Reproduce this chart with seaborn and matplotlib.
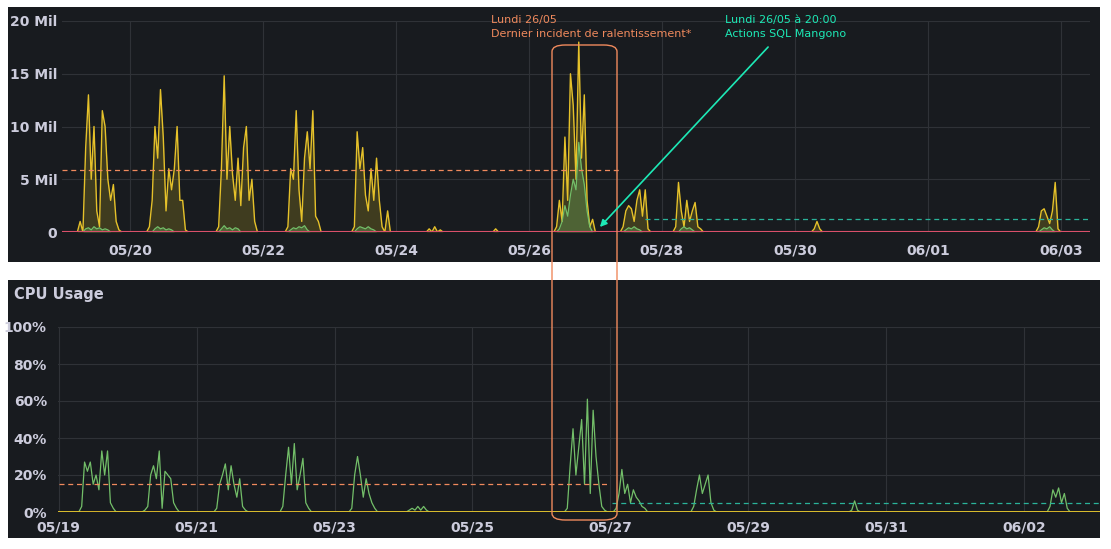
import numpy as np
import pandas as pd
import matplotlib
matplotlib.use("Agg")
import matplotlib.pyplot as plt
from matplotlib.patches import FancyBboxPatch, Rectangle, FancyArrowPatch
import seaborn as sns

# ---------------- data (hourly blocks: (day offset from 05/19, start hour, values)) -------------
traffic_yellow = [  # millions
    (0, 6, [1, 0, 8, 13, 5, 10, 2, 0.5, 11.5, 10, 5, 3, 4.5, 1, 0.2, 0]),
    (1, 7, [0.5, 3, 10, 7, 13.5, 9, 2, 6, 4, 6, 10, 3, 3, 0.2]),
    (2, 8, [0.5, 6, 14.8, 5, 10, 5.5, 3, 7, 2.5, 8, 10, 3, 5, 1, 0]),
    (3, 9, [0.5, 6, 5, 11.5, 4, 1, 7, 9.5, 6, 11.5, 1.5, 1, 0]),
    (4, 9, [0.5, 9.5, 6, 8, 3.5, 2, 6, 3, 7, 3, 0.5, 0, 2, 0]),
    (5, 12, [0.3, 0, 0.5, 0, 0.2]),
    (6, 12, [0.3]),
    (7, 10, [0.5, 3, 1, 9, 3, 15, 12, 5, 18, 7, 13, 3, 0.5, 1.2, 0]),
    (8, 10, [0.5, 2, 2.5, 2.2, 1, 3, 4, 1.5, 4, 0.3]),
    (9, 5, [0.5, 4.7, 2, 0.5, 3, 1, 2, 2.8, 0.5, 0.3]),
    (11, 7, [0.3, 1, 0.3]),
    (14, 16, [0.5, 2, 2.2, 1.5, 0.8, 2, 4.7, 0.3]),
]
traffic_green = [
    (0, 8, [0.3, 0.4, 0.2, 0.5, 0.3, 0.4, 0.2, 0.3, 0.2]),
    (1, 9, [0.3, 0.5, 0.3, 0.4, 0.2, 0.3, 0.2]),
    (2, 9, [0.3, 0.6, 0.3, 0.4, 0.2, 0.4, 0.3]),
    (3, 10, [0.2, 0.4, 0.3, 0.5, 0.4, 0.6, 0.2]),
    (4, 10, [0.3, 0.5, 0.4, 0.3, 0.5, 0.3, 0.2]),
    (7, 11, [0.3, 1, 2.5, 1.5, 3.5, 5, 4, 8.5, 6, 4.5, 2, 0.5]),
    (8, 11, [0.2, 0.4, 0.3, 0.5, 0.3, 0.2]),
    (9, 7, [0.3, 0.5, 0.3, 0.4, 0.2]),
    (14, 17, [0.2, 0.4, 0.3, 0.5, 0.2]),
]
cpu_green = [  # percent
    (0, 8, [3, 27, 22, 27, 15, 20, 12, 33, 20, 33, 5, 2]),
    (1, 6, [1, 3, 20, 25, 18, 33, 2, 22, 20, 18, 5, 2]),
    (2, 7, [2, 15, 20, 26, 12, 25, 15, 8, 18, 3, 1]),
    (3, 6, [3, 20, 35, 15, 37, 12, 20, 29, 5, 2]),
    (4, 6, [2, 20, 30, 20, 8, 18, 10, 5, 2]),
    (5, 2, [1, 2, 1, 3, 1, 3, 1]),
    (7, 9, [2, 25, 45, 20, 35, 50, 15, 61, 10, 55, 30, 15, 3, 1]),
    (8, 2, [2, 10, 23, 10, 15, 5, 12, 8, 6, 3, 2]),
    (9, 5, [3, 12, 20, 10, 15, 20, 5, 1]),
    (11, 12, [1, 6, 1]),
    (14, 9, [3, 12, 8, 13, 5, 10, 2]),
]
top_thresholds = {"incident": 5.9, "after": 1.2}
cpu_thresholds = {"incident": 15, "after": 5}
top_ticks = ["05/20", "05/22", "05/24", "05/26", "05/28", "05/30", "06/01", "06/03"]
top_tick_days = [1, 3, 5, 7, 9, 11, 13, 15]
cpu_ticks = ["05/19", "05/21", "05/23", "05/25", "05/27", "05/29", "05/31", "06/02"]
cpu_tick_days = [0, 2, 4, 6, 8, 10, 12, 14]
top_yticks = ["0", "5 Mil", "10 Mil", "15 Mil", "20 Mil"]
cpu_yticks = ["0%", "20%", "40%", "60%", "80%", "100%"]


def build(blocks, n=16 * 24):
    v = np.zeros(n)
    for d, h, vals in blocks:
        s = d * 24 + h
        v[s:s + len(vals)] = vals
    return pd.DataFrame({"day": np.arange(n) / 24.0, "value": v})


BG = "#181b1f"
GRID = "#2f3237"
TXT = "#ccccdc"
YEL = "#e5c12a"
GRN = "#73bf69"
ORG = "#f08a5d"
CYN = "#1de9b6"
CYN_D = "#2ab39a"
W, H = 1111, 549

fig = plt.figure(figsize=(W / 100, H / 100), dpi=100)
fig.patch.set_facecolor("white")


def fr(x0, y0, x1, y1):
    return [x0 / W, 1 - y1 / H, (x1 - x0) / W, (y1 - y0) / H]


def pt(x, y):
    return (x / W, 1 - y / H)


for (x0, y0, x1, y1) in [(8, 7, 1100, 262), (8, 280, 1100, 538)]:
    fig.patches.append(Rectangle(pt(x0, y1), (x1 - x0) / W, (y1 - y0) / H,
                                 transform=fig.transFigure, facecolor=BG, edgecolor="none", zorder=-10))


def style(ax):
    ax.set_facecolor(BG)
    for s in ax.spines.values():
        s.set_visible(False)
    ax.grid(True, color=GRID, lw=0.8)
    ax.set_axisbelow(True)
    ax.tick_params(colors=TXT, length=0, labelsize=10)
    ax.set_xlabel("")
    ax.set_ylabel("")


# ---------- top ----------
ax1 = fig.add_axes(fr(62, 21, 1090, 232))
ty = build(traffic_yellow)
tg = build(traffic_green)
ax1.fill_between(ty["day"], ty["value"], color="#8a7a20", alpha=0.35, lw=0)
sns.lineplot(data=ty, x="day", y="value", ax=ax1, color=YEL, lw=1.0)
ax1.fill_between(tg["day"], tg["value"], color=GRN, alpha=0.3, lw=0)
sns.lineplot(data=tg, x="day", y="value", ax=ax1, color=GRN, lw=0.9)
ax1.axhline(0, color="#d9506a", lw=1.5, zorder=5)
ax1.plot([-0.03, 8.35], [top_thresholds["incident"]] * 2, ls=(0, (4, 3)), color=ORG, lw=0.9)
ax1.plot([8.75, 15.5], [top_thresholds["after"]] * 2, ls=(0, (4, 3)), color=CYN_D, lw=0.9)
ax1.set_xlim(-0.023, 15.44)
ax1.set_ylim(0, 20)
ax1.set_yticks([0, 5, 10, 15, 20], top_yticks)
ax1.set_xticks(top_tick_days, top_ticks)
style(ax1)
ax1.tick_params(axis="x", pad=8)
for t in ax1.get_xticklabels() + ax1.get_yticklabels():
    t.set_fontweight("semibold")

# ---------- bottom ----------
ax2 = fig.add_axes(fr(58, 327, 1100, 512))
cg = build(cpu_green)
sns.lineplot(data=cg, x="day", y="value", ax=ax2, color=GRN, lw=0.9)
ax2.axhline(0, color=YEL, lw=1.3, zorder=5)
ax2.plot([0, 8.0], [cpu_thresholds["incident"]] * 2, ls=(0, (4, 3)), color=ORG, lw=0.9)
ax2.plot([8.03, 15.2], [cpu_thresholds["after"]] * 2, ls=(0, (4, 3)), color=CYN_D, lw=0.9)
ax2.set_xlim(-0.01, 15.1)
ax2.set_ylim(0, 100)
ax2.set_yticks([0, 20, 40, 60, 80, 100], cpu_yticks)
ax2.set_xticks(cpu_tick_days, cpu_ticks)
style(ax2)
ax2.tick_params(axis="x", pad=6)
ax2.tick_params(axis="y", pad=8)
for t in ax2.get_xticklabels() + ax2.get_yticklabels():
    t.set_fontweight("semibold")
fig.text(*pt(14, 295), "CPU Usage", color=TXT, fontsize=10.5, fontweight="bold", va="center")

# ---------- annotations ----------
fig.patches.append(FancyBboxPatch(pt(552, 520), (617 - 552) / W, (520 - 45) / H,
                                  boxstyle="round,pad=0,rounding_size=0.012",
                                  transform=fig.transFigure, facecolor="none",
                                  edgecolor=ORG, lw=1.0, zorder=10))
fig.text(*pt(491, 20), "Lundi 26/05", color=ORG, fontsize=8, va="center")
fig.text(*pt(491, 34), "Dernier incident de ralentissement*", color=ORG, fontsize=8, va="center")
fig.text(*pt(725, 20), "Lundi 26/05 à 20:00", color=CYN, fontsize=8, va="center")
fig.text(*pt(725, 34), "Actions SQL Mangono", color=CYN, fontsize=8, va="center")
fig.patches.append(FancyArrowPatch(pt(770, 45), pt(598, 229), transform=fig.transFigure,
                                   arrowstyle="-|>", mutation_scale=10, color=CYN, lw=1.2, zorder=11))

fig.savefig("out.png", dpi=100, facecolor="white")
